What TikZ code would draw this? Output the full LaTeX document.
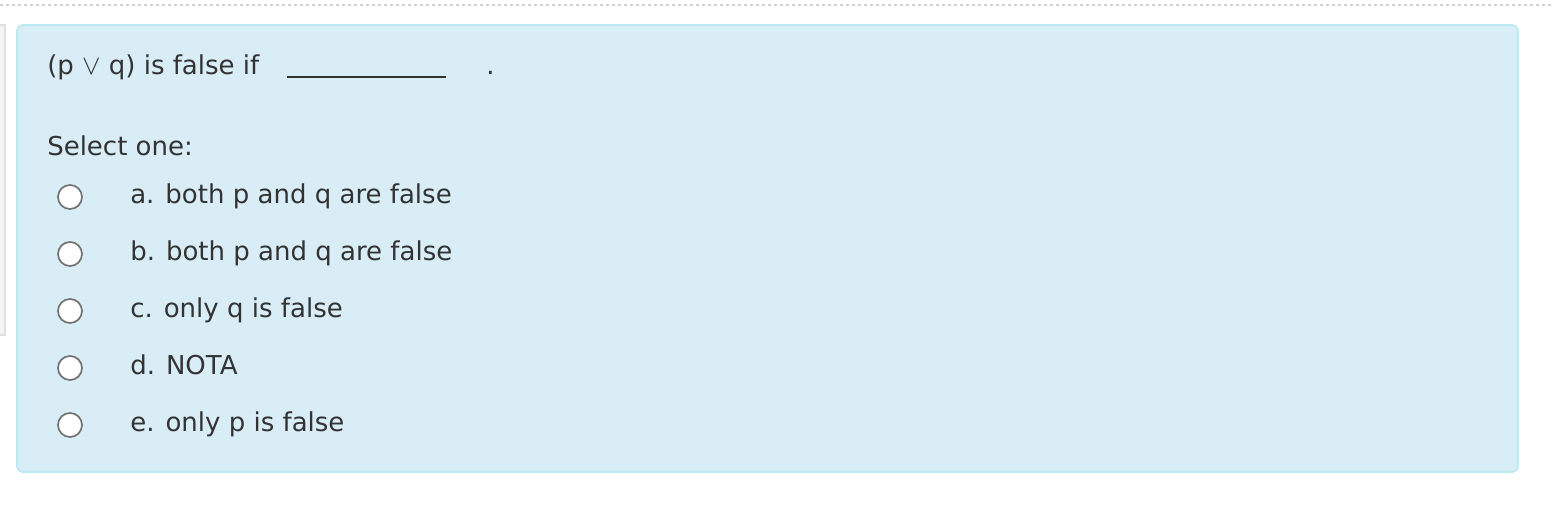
\documentclass[tikz,border=0pt]{standalone}
\usepackage{fontspec}
\setmainfont{DejaVu Sans}
\definecolor{boxfill}{HTML}{D9EDF7}
\definecolor{boxline}{HTML}{BCE8F1}
\definecolor{txt}{HTML}{333333}
\tikzset{
  lbl/.style={anchor=base west, inner sep=0pt, text=txt, font=\fontsize{19.5pt}{22pt}\selectfont},
  radio/.style={circle, draw=black!55, line width=1.3pt, fill=white, minimum size=18pt, inner sep=0pt}
}
\begin{document}
\begin{tikzpicture}[x=0.75pt,y=-0.75pt]
\useasboundingbox (0,0) rectangle (1552,504);
\draw[black!18, line width=2pt, dash pattern=on 2.5pt off 2pt] (0,5) -- (1552,5);
\draw[black!12, fill=black!4, line width=1pt] (-10,25) rectangle (5,335);
\draw[boxline, fill=boxfill, line width=1.2pt, rounded corners=4pt] (17,25) rectangle (1518,472);
\node[lbl] (q) at (47,74) {(p $\vee$ q) is false if \rule[-1pt]{164pt}{0pt}.};
\draw[txt, line width=1pt] (287,77) -- (446,77);
\node[lbl] (s) at (47,155) {Select one:};
\node[radio] (r1) at (70,197) {}; \node[lbl] (a) at (130,203) {a. both p and q are false};
\node[radio] (r2) at (70,254) {}; \node[lbl] (b) at (130,260) {b. both p and q are false};
\node[radio] (r3) at (70,311) {}; \node[lbl] (c) at (130,317) {c. only q is false};
\node[radio] (r4) at (70,368) {}; \node[lbl] (d) at (130,374) {d. NOTA};
\node[radio] (r5) at (70,425) {}; \node[lbl] (e) at (130,431) {e. only p is false};
\end{tikzpicture}
\end{document}
